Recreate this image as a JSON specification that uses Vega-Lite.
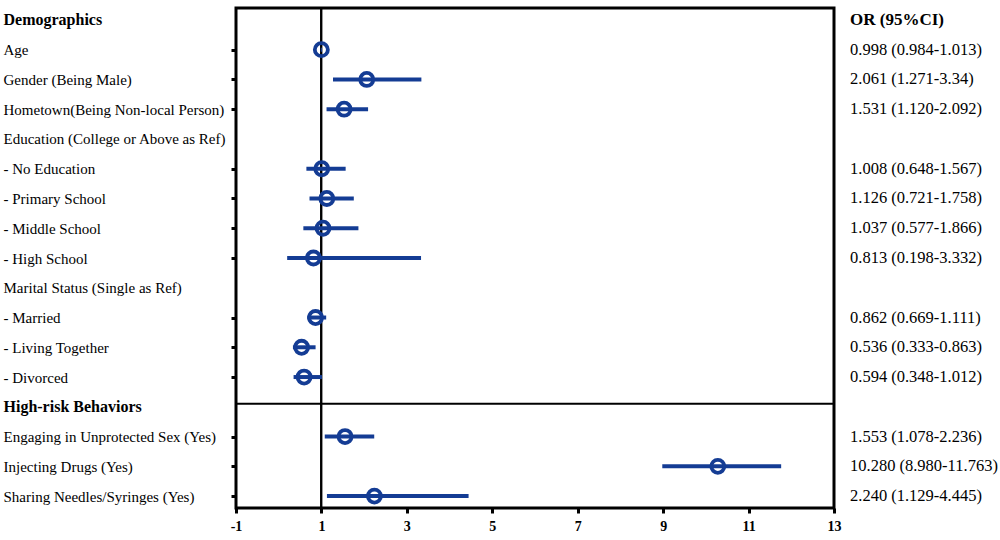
{
  "$schema": "https://vega.github.io/schema/vega-lite/v6.json",
  "width": 598,
  "height": 500,
  "autosize": {"type": "none"},
  "padding": {"left": 236, "top": 8, "right": 166, "bottom": 32},
  "background": "white",
  "config": {"view": {"stroke": "black", "strokeWidth": 3}, "font": "Liberation Serif"},
  "data": {"values": [
    {"label": "Demographics", "ci": "OR (95%CI)"},
    {"label": "Age", "or": 0.998, "lo": 0.984, "hi": 1.013, "ci": "0.998 (0.984-1.013)"},
    {"label": "Gender (Being Male)", "or": 2.061, "lo": 1.271, "hi": 3.34, "ci": "2.061 (1.271-3.34)"},
    {"label": "Hometown(Being Non-local Person)", "or": 1.531, "lo": 1.12, "hi": 2.092, "ci": "1.531 (1.120-2.092)"},
    {"label": "Education (College or Above as Ref)"},
    {"label": "- No Education", "or": 1.008, "lo": 0.648, "hi": 1.567, "ci": "1.008 (0.648-1.567)"},
    {"label": "- Primary School", "or": 1.126, "lo": 0.721, "hi": 1.758, "ci": "1.126 (0.721-1.758)"},
    {"label": "- Middle School", "or": 1.037, "lo": 0.577, "hi": 1.866, "ci": "1.037 (0.577-1.866)"},
    {"label": "- High School", "or": 0.813, "lo": 0.198, "hi": 3.332, "ci": "0.813 (0.198-3.332)"},
    {"label": "Marital Status (Single as Ref)"},
    {"label": "- Married", "or": 0.862, "lo": 0.669, "hi": 1.111, "ci": "0.862 (0.669-1.111)"},
    {"label": "- Living Together", "or": 0.536, "lo": 0.333, "hi": 0.863, "ci": "0.536 (0.333-0.863)"},
    {"label": "- Divorced", "or": 0.594, "lo": 0.348, "hi": 1.012, "ci": "0.594 (0.348-1.012)"},
    {"label": "High-risk Behaviors"},
    {"label": "Engaging in Unprotected Sex (Yes)", "or": 1.553, "lo": 1.078, "hi": 2.236, "ci": "1.553 (1.078-2.236)"},
    {"label": "Injecting Drugs (Yes)", "or": 10.28, "lo": 8.98, "hi": 11.763, "ci": "10.280 (8.980-11.763)"},
    {"label": "Sharing Needles/Syringes (Yes)", "or": 2.24, "lo": 1.129, "hi": 4.445, "ci": "2.240 (1.129-4.445)"}
  ]},
  "layer": [
    {
      "mark": {"type": "rule", "color": "black", "strokeWidth": 1.2},
      "encoding": {
        "x": {"datum": 1, "type": "quantitative", "scale": {"domain": [-1, 13], "nice": false, "zero": false},
          "axis": {"values": [-1, 1, 3, 5, 7, 9, 11, 13], "title": null, "domain": false, "grid": false,
            "tickSize": 5, "tickWidth": 3, "tickColor": "black", "labelFontWeight": "bold", "labelFontSize": 14,
            "labelFont": "Liberation Serif", "labelPadding": 6, "labelColor": "black", "labelFlush": false,
            "labelOverlap": false, "labelExpr": "'' + datum.value"}}
      }
    },
    {
      "transform": [{"filter": "datum.label === 'High-risk Behaviors'"}],
      "mark": {"type": "rule", "color": "black", "strokeWidth": 2, "yOffset": -3},
      "encoding": {
        "y": {"field": "label", "type": "nominal", "sort": null,
          "scale": {"type": "point", "padding": 0.4, "domain": ["Demographics", "Age", "Gender (Being Male)", "Hometown(Being Non-local Person)", "Education (College or Above as Ref)", "- No Education", "- Primary School", "- Middle School", "- High School", "Marital Status (Single as Ref)", "- Married", "- Living Together", "- Divorced", "High-risk Behaviors", "Engaging in Unprotected Sex (Yes)", "Injecting Drugs (Yes)", "Sharing Needles/Syringes (Yes)"]},
          "axis": {"title": null, "domain": false, "grid": false, "labelAlign": "left", "labelBaseline": "middle",
            "labelPadding": 228, "tickSize": 5, "tickWidth": 3,
            "tickColor": {"condition": {"test": "indexof(['Demographics','Education (College or Above as Ref)','Marital Status (Single as Ref)','High-risk Behaviors'], datum.value) >= 0", "value": "rgba(0,0,0,0)"}, "value": "black"},
            "labelFontWeight": {"condition": {"test": "datum.value === 'Demographics' || datum.value === 'High-risk Behaviors'", "value": "bold"}, "value": "normal"},
            "labelFontSize": {"condition": {"test": "datum.value === 'Demographics' || datum.value === 'High-risk Behaviors'", "value": 16}, "value": 15},
            "labelFont": "Liberation Serif", "labelColor": "black", "labelLimit": 400, "labelOverlap": false}}
      }
    },
    {
      "transform": [{"filter": "isValid(datum.or)"}],
      "mark": {"type": "rule", "color": "#143c94", "strokeWidth": 4},
      "encoding": {
        "y": {"field": "label", "type": "nominal", "sort": null},
        "x": {"field": "lo", "type": "quantitative"},
        "x2": {"field": "hi"}
      }
    },
    {
      "transform": [{"filter": "isValid(datum.or)"}],
      "mark": {"type": "point", "shape": "circle", "filled": false, "color": "#143c94", "strokeWidth": 3.8, "size": 170, "opacity": 1},
      "encoding": {
        "y": {"field": "label", "type": "nominal", "sort": null},
        "x": {"field": "or", "type": "quantitative"}
      }
    },
    {
      "transform": [{"filter": "isValid(datum.or)"}],
      "mark": {"type": "text", "align": "left", "baseline": "middle", "fontSize": 16.5, "font": "Liberation Serif", "color": "black", "clip": false, "dx": 16},
      "encoding": {
        "y": {"field": "label", "type": "nominal", "sort": null},
        "x": {"datum": 13, "type": "quantitative"},
        "text": {"field": "ci"}
      }
    },
    {
      "transform": [{"filter": "datum.label === 'Demographics'"}],
      "mark": {"type": "text", "align": "left", "baseline": "middle", "fontSize": 17, "fontWeight": "bold", "font": "Liberation Serif", "color": "black", "clip": false, "dx": 16},
      "encoding": {
        "y": {"field": "label", "type": "nominal", "sort": null},
        "x": {"datum": 13, "type": "quantitative"},
        "text": {"field": "ci"}
      }
    }
  ]
}
